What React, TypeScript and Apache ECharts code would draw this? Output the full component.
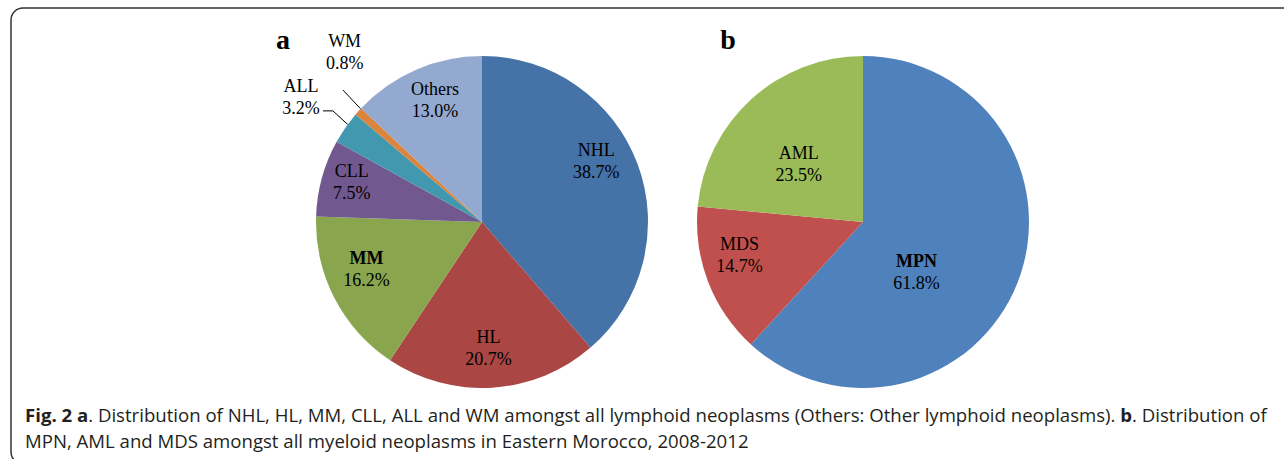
import React, { useEffect, useRef } from "react";
import * as echarts from "echarts";

// Panel a: lymphoid neoplasms
const lymphoidNames = ["NHL", "HL", "MM", "CLL", "ALL", "WM", "Others"];
const lymphoidValues = [38.7, 20.7, 16.2, 7.5, 3.2, 0.8, 13.0];
const lymphoidColors = ["#4572A7", "#AA4643", "#89A54E", "#71588F", "#4198AF", "#DB843D", "#93A9CF"];
const lymphoidBold = ["MM"];
const lymphoidOutside = ["ALL", "WM"];

// Panel b: myeloid neoplasms
const myeloidNames = ["MPN", "MDS", "AML"];
const myeloidValues = [61.8, 14.7, 23.5];
const myeloidColors = ["#4F81BD", "#C0504D", "#9BBB59"];
const myeloidBold = ["MPN"];

// label placement (fraction of radius, angle clockwise from 12 o'clock)
const labelPosA: number[][] = [[0.78, 62], [0.76, 177], [0.75, 248], [0.82, 287], [1.325, 304.6], [1.315, 321], [0.79, 339]];
const labelPosB: number[][] = [[0.44, 133], [0.77, 255], [0.52, 312]];
const leaderA: Record<number, { pts: number[][]; tail: number }> = {
  4: { pts: [[1.0, 306], [1.12, 306.7]], tail: -10 },
  5: { pts: [[1.0, 313], [1.155, 313.5]], tail: 0 },
};

const R = 166;
const centerA = [482, 222];
const centerB = [863, 222];

const captionLine1a = "Fig. 2 a";
const captionLine1b = ". Distribution of NHL, HL, MM, CLL, ALL and WM amongst all lymphoid neoplasms (Others: Other lymphoid neoplasms). ";
const captionLine1c = "b";
const captionLine1d = ". Distribution of";
const captionLine2 = "MPN, AML and MDS amongst all myeloid neoplasms in Eastern Morocco, 2008-2012";

function polar(c: number[], f: number, deg: number) {
  const t = (deg * Math.PI) / 180;
  return [c[0] + f * R * Math.sin(t), c[1] - f * R * Math.cos(t)];
}

const serif = "'Liberation Serif', 'Times New Roman', serif";
const sans = "'Open Sans', sans-serif";
const richStyles = {
  n: { fontFamily: serif, fontSize: 18, color: "#000", lineHeight: 22 },
  b: { fontFamily: serif, fontSize: 18, color: "#000", fontWeight: "bold", lineHeight: 22 },
  v: { fontFamily: serif, fontSize: 18, color: "#000", lineHeight: 22 },
};
const captionRich = {
  b: { fontFamily: sans, fontSize: 18.6, fontWeight: "bold", fill: "#231f20" },
  r: { fontFamily: sans, fontSize: 18.6, fill: "#231f20" },
};

function makeData(names: string[], values: number[], colors: string[], bold: string[], outside: string[]) {
  return names.map((n, i) => {
    const isOut = outside.indexOf(n) >= 0;
    return {
      name: n,
      value: values[i],
      itemStyle: { color: colors[i] },
      label: {
        position: isOut ? "outside" : "inside",
        formatter: `{${bold.indexOf(n) >= 0 ? "b" : "n"}|${n}}\n{v|${values[i].toFixed(1)}%}`,
      },
      labelLine: { show: isOut, lineStyle: { color: "#000", width: 1 } },
    };
  });
}

export default function App() {
  const ref = useRef<HTMLDivElement>(null);
  useEffect(() => {
    if (!ref.current) return;
    const chart = echarts.init(ref.current, null, { renderer: "svg" });
    const baseSeries = {
      type: "pie",
      radius: R,
      startAngle: 90,
      clockwise: true,
      avoidLabelOverlap: false,
      silent: true,
      label: { show: true, rich: richStyles, align: "center" },
      emphasis: { disabled: true },
    };
    chart.setOption({
      animation: false,
      backgroundColor: "#fff",
      series: [
        {
          ...baseSeries,
          center: centerA,
          data: makeData(lymphoidNames, lymphoidValues, lymphoidColors, lymphoidBold, lymphoidOutside),
          labelLayout: (p: any) => {
            const i = p.dataIndex;
            const pos = polar(centerA, labelPosA[i][0], labelPosA[i][1]);
            const res: any = { x: pos[0], y: pos[1], align: "center", verticalAlign: "middle" };
            const ld = leaderA[i];
            if (ld) {
              const p1 = polar(centerA, ld.pts[0][0], ld.pts[0][1]);
              const p2 = polar(centerA, ld.pts[1][0], ld.pts[1][1]);
              res.labelLinePoints = [p1, p2, [p2[0] + ld.tail, p2[1]]];
            }
            return res;
          },
        },
        {
          ...baseSeries,
          center: centerB,
          data: makeData(myeloidNames, myeloidValues, myeloidColors, myeloidBold, []),
          labelLayout: (p: any) => {
            const i = p.dataIndex;
            const pos = polar(centerB, labelPosB[i][0], labelPosB[i][1]);
            return { x: pos[0], y: pos[1], align: "center", verticalAlign: "middle" };
          },
        },
      ],
      graphic: [
        {
          type: "rect",
          shape: { x: 11, y: 8, width: 1320, height: 456, r: 12 },
          style: { fill: "none", stroke: "#333", lineWidth: 1.5 },
          silent: true,
        },
        {
          type: "text",
          x: 283,
          y: 53,
          style: { text: "a", font: `bold 28px ${serif}`, fill: "#000", textAlign: "center", textVerticalAlign: "bottom" },
        },
        {
          type: "text",
          x: 728,
          y: 53,
          style: { text: "b", font: `bold 28px ${serif}`, fill: "#000", textAlign: "center", textVerticalAlign: "bottom" },
        },
        {
          type: "text",
          x: 25,
          y: 414.5,
          style: {
            text: `{b|${captionLine1a}}{r|${captionLine1b}}{b|${captionLine1c}}{r|${captionLine1d}}`,
            rich: captionRich,
            textVerticalAlign: "middle",
          },
        },
        {
          type: "text",
          x: 25,
          y: 440.5,
          style: {
            text: `{r|${captionLine2}}`,
            rich: captionRich,
            textVerticalAlign: "middle",
          },
        },
      ],
    });
    return () => chart.dispose();
  }, []);
  return <div ref={ref} style={{ position: "fixed", left: 0, top: 0, width: 1284, height: 459 }} />;
}
